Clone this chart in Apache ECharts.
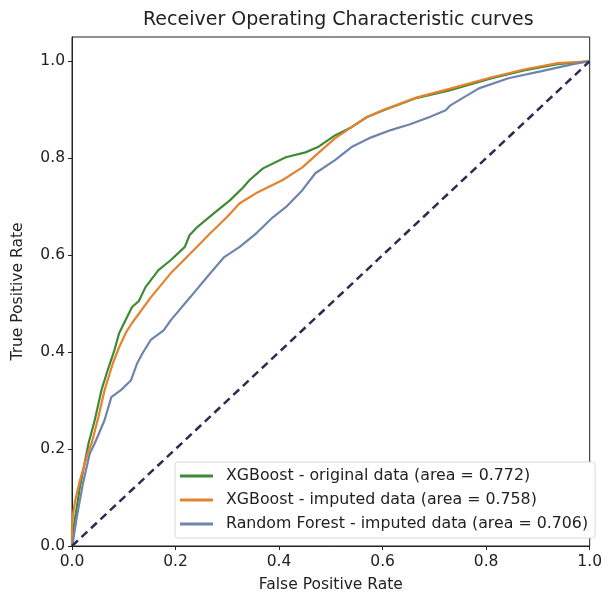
<!DOCTYPE html>
<html>
<head>
<meta charset="utf-8">
<script src="https://cdn.jsdelivr.net/npm/echarts@6/dist/echarts.min.js"></script>
<style>
  html, body { margin: 0; padding: 0; background: #fff; }
  #main { width: 605px; height: 598px; }
</style>
</head>
<body>
<div id="main"></div>
<script>
// ROC points, [false positive rate, true positive rate]
var xgbOriginal = [
  [0, 0], [0.002, 0.03], [0.006, 0.058], [0.015, 0.12], [0.032, 0.212], [0.044, 0.26],
  [0.057, 0.322], [0.069, 0.363], [0.082, 0.404], [0.091, 0.439], [0.116, 0.493],
  [0.129, 0.505], [0.142, 0.534], [0.167, 0.569], [0.191, 0.59], [0.218, 0.617],
  [0.227, 0.641], [0.242, 0.658], [0.275, 0.687], [0.305, 0.713], [0.331, 0.74],
  [0.343, 0.755], [0.369, 0.779], [0.413, 0.802], [0.451, 0.812], [0.475, 0.823],
  [0.508, 0.847], [0.54, 0.864], [0.57, 0.885], [0.602, 0.899], [0.665, 0.924],
  [0.729, 0.94], [0.811, 0.965], [0.873, 0.981], [0.938, 0.994], [1, 1]
]
var xgbImputed = [
  [0, 0], [0, 0.04], [0.002, 0.066], [0.006, 0.093], [0.015, 0.134], [0.03, 0.19],
  [0.038, 0.212], [0.051, 0.266], [0.063, 0.322], [0.079, 0.377], [0.091, 0.41],
  [0.104, 0.44], [0.116, 0.46], [0.153, 0.514], [0.191, 0.563], [0.229, 0.604],
  [0.267, 0.645], [0.299, 0.678], [0.324, 0.707], [0.356, 0.728], [0.407, 0.755],
  [0.445, 0.781], [0.475, 0.81], [0.508, 0.841], [0.54, 0.864], [0.57, 0.885],
  [0.602, 0.9], [0.665, 0.925], [0.729, 0.943], [0.811, 0.967], [0.873, 0.983],
  [0.938, 0.996], [1, 1]
]
var rfImputed = [
  [0, 0], [0.002, 0.01], [0.009, 0.058], [0.021, 0.128], [0.034, 0.19], [0.044, 0.212],
  [0.063, 0.26], [0.076, 0.307], [0.095, 0.322], [0.114, 0.342], [0.126, 0.377],
  [0.136, 0.397], [0.152, 0.425], [0.177, 0.445], [0.191, 0.466], [0.229, 0.514],
  [0.261, 0.555], [0.294, 0.596], [0.324, 0.617], [0.356, 0.645], [0.388, 0.678],
  [0.413, 0.699], [0.445, 0.734], [0.47, 0.769], [0.508, 0.796], [0.54, 0.823],
  [0.578, 0.843], [0.616, 0.858], [0.653, 0.87], [0.691, 0.885], [0.722, 0.899],
  [0.731, 0.909], [0.786, 0.944], [0.843, 0.965], [0.905, 0.979], [0.968, 0.994], [1, 1]
]
var chance = [[0, 0], [1, 1]]
var seriesNames = [
  'XGBoost - original data (area = 0.772)',
  'XGBoost - imputed data (area = 0.758)',
  'Random Forest - imputed data (area = 0.706)'
]
var tickValues = [0, 0.2, 0.4, 0.6, 0.8, 1.0]

var font = 'DejaVu Sans'
var chart = echarts.init(document.getElementById('main'))

chart.setOption({
  animation: false,
  textStyle: { fontFamily: font },
  title: {
    text: 'Receiver Operating Characteristic curves',
    left: 138,
    top: 6,
    textStyle: { fontFamily: font, fontSize: 19, fontWeight: 'normal', color: '#222' }
  },
  grid: {
    left: 72,
    right: 5,
    top: 37,
    bottom: 52,
    show: true,
    borderColor: '#222',
    borderWidth: 1
  },
  legend: {
    orient: 'vertical',
    left: 175,
    top: 462,
    padding: [6, 7, 6, 5],
    icon: 'rect',
    itemWidth: 33,
    itemHeight: 3,
    itemGap: 8,
    backgroundColor: '#fff',
    borderColor: '#d8d8d8',
    borderWidth: 1,
    borderRadius: 3,
    textStyle: { fontFamily: font, fontSize: 15.8, color: '#222', padding: [0, 0, 0, 8] },
    data: seriesNames
  },
  xAxis: {
    type: 'value',
    min: 0,
    max: 1,
    name: 'False Positive Rate',
    nameLocation: 'middle',
    nameGap: 31,
    nameTextStyle: { fontFamily: font, fontSize: 15.5, color: '#222' },
    axisLine: { show: true, lineStyle: { color: '#222', width: 1 } },
    axisTick: { show: true, length: 4, customValues: tickValues, lineStyle: { color: '#222' } },
    axisLabel: {
      fontFamily: font, fontSize: 15.5, color: '#222', margin: 8,
      customValues: tickValues,
      formatter: function (v) { return v.toFixed(1) }
    },
    splitLine: { show: false }
  },
  yAxis: {
    type: 'value',
    min: 0,
    max: 1.05,
    name: 'True Positive Rate',
    nameLocation: 'middle',
    nameGap: 46,
    nameTextStyle: { fontFamily: font, fontSize: 15.5, color: '#222' },
    axisLine: { show: true, lineStyle: { color: '#222', width: 1 } },
    axisTick: { show: true, length: 4, customValues: tickValues, lineStyle: { color: '#222' } },
    axisLabel: {
      fontFamily: font, fontSize: 15.5, color: '#222', margin: 7,
      customValues: tickValues,
      formatter: function (v) { return v.toFixed(1) }
    },
    splitLine: { show: false }
  },
  series: [
    {
      name: seriesNames[0],
      type: 'line',
      data: xgbOriginal,
      symbol: 'none',
      lineStyle: { color: '#3f8a35', width: 2.2 },
      itemStyle: { color: '#3f8a35' }
    },
    {
      name: seriesNames[1],
      type: 'line',
      data: xgbImputed,
      symbol: 'none',
      lineStyle: { color: '#e5822e', width: 2.2 },
      itemStyle: { color: '#e5822e' }
    },
    {
      name: seriesNames[2],
      type: 'line',
      data: rfImputed,
      symbol: 'none',
      lineStyle: { color: '#6e84ad', width: 2.2 },
      itemStyle: { color: '#6e84ad' }
    },
    {
      name: 'chance',
      type: 'line',
      data: chance,
      symbol: 'none',
      silent: true,
      lineStyle: { color: '#2c2c50', width: 2.5, type: [8, 5] }
    }
  ]
})
</script>
</body>
</html>
